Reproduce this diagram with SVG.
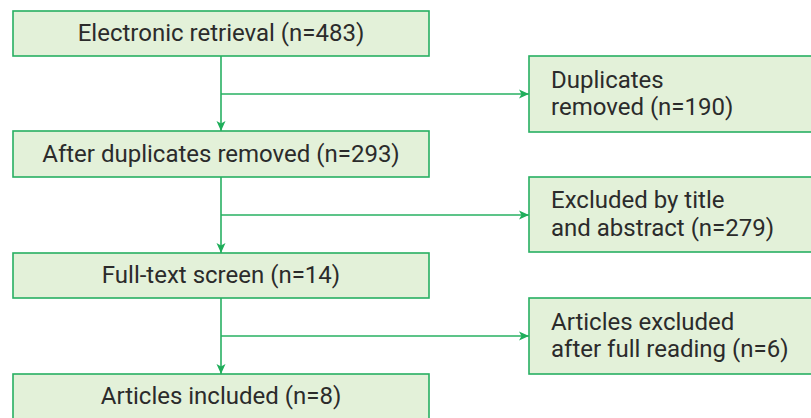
<svg xmlns="http://www.w3.org/2000/svg" width="811" height="418" viewBox="0 0 811 418">
<defs>
<marker id="ah" markerWidth="10" markerHeight="10" refX="10" refY="5" orient="auto" markerUnits="userSpaceOnUse">
<path d="M0,0.5 L10,5 L0,9.5 L2.5,5 Z" fill="#1fae5a"/>
</marker>
</defs>
<style>
.box{fill:#e3f1d9;stroke:#27b062;stroke-width:1.6}
.c{fill:none;stroke:#27b062;stroke-width:1.6}
text{font-family:Roboto,"Noto Sans","Liberation Sans",sans-serif;font-size:24px;fill:#2b2b2b}
.m{text-anchor:middle}
</style>
<g id="connectors">
<line class="c" x1="221" y1="56" x2="221" y2="131" marker-end="url(#ah)"/>
<line class="c" x1="221" y1="94" x2="529" y2="94" marker-end="url(#ah)"/>
<line class="c" x1="221" y1="177" x2="221" y2="253" marker-end="url(#ah)"/>
<line class="c" x1="221" y1="215" x2="529" y2="215" marker-end="url(#ah)"/>
<line class="c" x1="221" y1="298" x2="221" y2="374" marker-end="url(#ah)"/>
<line class="c" x1="221" y1="336" x2="529" y2="336" marker-end="url(#ah)"/>
</g>
<g id="n1"><rect class="box" x="13" y="11" width="416" height="45"/><text class="m" x="221" y="41">Electronic retrieval (n=483)</text></g>
<g id="n2"><rect class="box" x="13" y="131" width="416" height="46"/><text class="m" x="221" y="162">After duplicates removed (n=293)</text></g>
<g id="n3"><rect class="box" x="13" y="253" width="416" height="45"/><text class="m" x="221" y="283">Full-text screen (n=14)</text></g>
<g id="n4"><rect class="box" x="13" y="374" width="416" height="50"/><text class="m" x="221" y="404">Articles included (n=8)</text></g>
<g id="r1"><rect class="box" x="529" y="56" width="290" height="76"/><text x="551" y="88">Duplicates</text><text x="551" y="115">removed (n=190)</text></g>
<g id="r2"><rect class="box" x="529" y="177" width="290" height="75"/><text x="551" y="208">Excluded by title</text><text x="551" y="236">and abstract (n=279)</text></g>
<g id="r3"><rect class="box" x="529" y="298" width="290" height="76"/><text x="551" y="330">Articles excluded</text><text x="551" y="357">after full reading (n=6)</text></g>
</svg>
